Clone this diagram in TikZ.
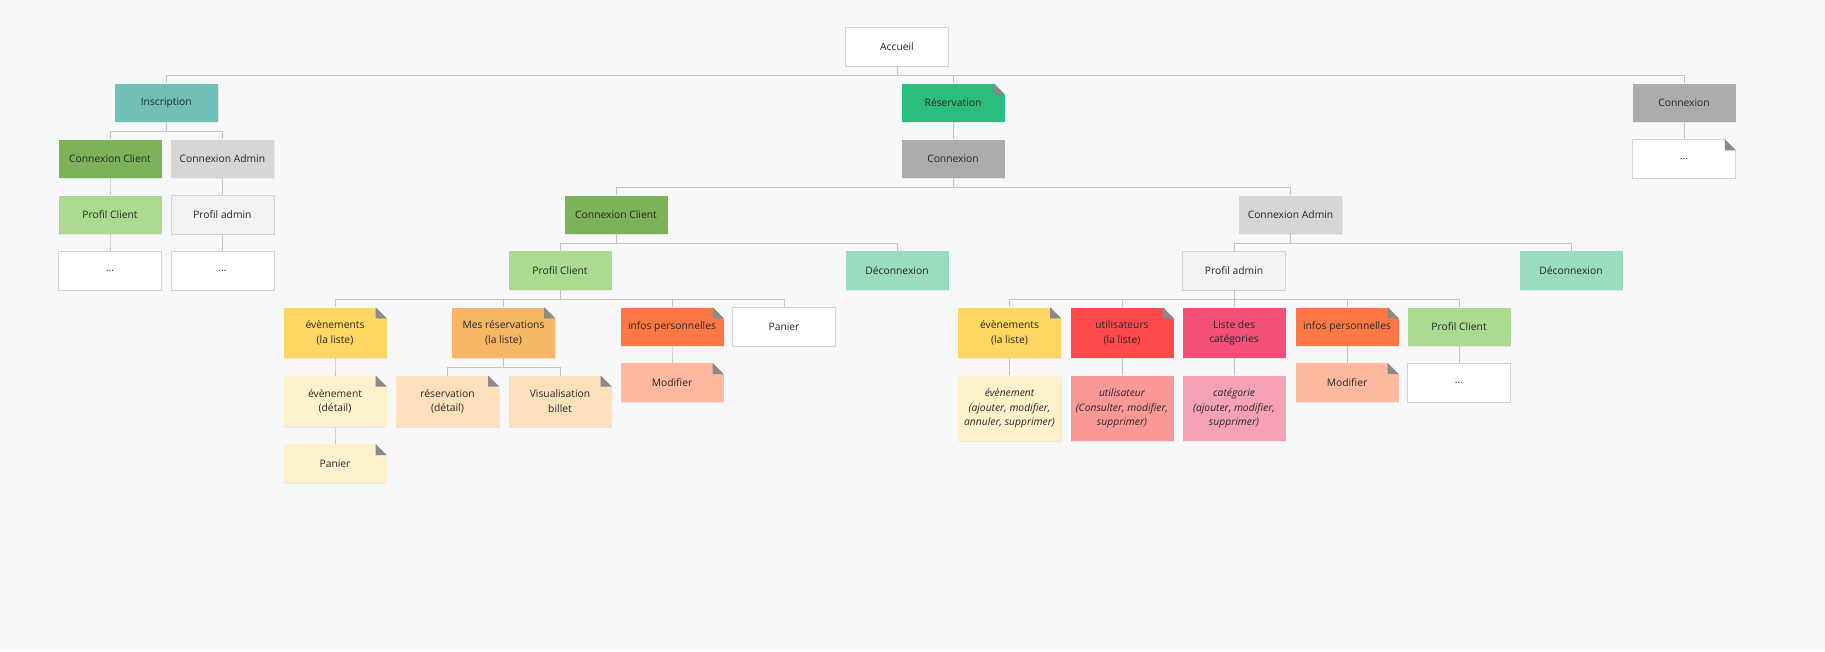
\documentclass[tikz,border=0pt]{standalone}
\usepackage{fontspec}
\setmainfont{Open Sans}
\usetikzlibrary{shadows}

% palette
\definecolor{bgc}{HTML}{F7F8FA}
\definecolor{linec}{HTML}{C3C3C3}
\definecolor{edgec}{HTML}{D4D4D4}
\definecolor{foldc}{HTML}{8A8A8A}
\definecolor{txt}{HTML}{262626}
\definecolor{teal}{HTML}{70BFB9}
\definecolor{resgreen}{HTML}{2BBD7E}
\definecolor{midgray}{HTML}{ACACAC}
\definecolor{darkgreen}{HTML}{7BB25A}
\definecolor{lightgray}{HTML}{D6D6D6}
\definecolor{palegreen}{HTML}{A9DB91}
\definecolor{ghost}{HTML}{F2F2F2}
\definecolor{mint}{HTML}{9ADCBE}
\definecolor{sun}{HTML}{FED763}
\definecolor{apricot}{HTML}{F6B663}
\definecolor{coral}{HTML}{FD7845}
\definecolor{salmon}{HTML}{FEB9A0}
\definecolor{cream}{HTML}{FFF1CB}
\definecolor{peach}{HTML}{FFE0BD}
\definecolor{tomato}{HTML}{FE4A4A}
\definecolor{rose}{HTML}{FC9898}
\definecolor{raspberry}{HTML}{F25079}
\definecolor{blush}{HTML}{F6A2B5}

\begin{document}
\begin{tikzpicture}[x=1pt,y=-1pt,
  card/.style={rectangle, minimum width=103pt, minimum height=38.5pt,
    inner sep=0pt, align=center, text=txt,
    font=\fontsize{10.3}{14.3}\selectfont,
    drop shadow={shadow xshift=0.7pt, shadow yshift=-1.1pt, opacity=0.13}},
  two/.style={minimum height=50.7pt},
  three/.style={minimum height=65.7pt, font=\fontsize{10.3}{14.3}\selectfont\itshape},
  plain/.style={card, fill=white, draw=edgec, line width=0.7pt},
  conn/.style={draw=linec, line width=0.9pt}]

\fill[bgc] (0,0) rectangle (1825,651);
\useasboundingbox (0,0) rectangle (1825,651);

% level 0
\node[plain] (acc) at (897,46.8) {Accueil};

% level 1
\node[card, fill=teal]     (insc) at (166.3,102.9) {Inscription};
\node[card, fill=resgreen] (resa) at (953,102.9)   {Réservation};
\node[card, fill=midgray]  (cnxR) at (1684,102.9)  {Connexion};

% level 2
\node[card, fill=darkgreen] (ccL)   at (110,158.9)   {Connexion Client};
\node[card, fill=lightgray] (caL)   at (222.4,158.9) {Connexion Admin};
\node[card, fill=midgray]   (cnxM)  at (953,158.9)   {Connexion};
\node[plain]                (dotsR) at (1684,158.9)  {...};

% level 3
\node[card, fill=palegreen] (pcL) at (110,214.8)    {Profil Client};
\node[card, fill=ghost, draw=edgec, line width=0.5pt] (paL) at (222.4,214.8) {Profil admin};
\node[card, fill=darkgreen] (ccM) at (616,214.8)    {Connexion Client};
\node[card, fill=lightgray] (caM) at (1290.5,214.8) {Connexion Admin};

% level 4
\node[plain] (dotsL1) at (110,270.6)   {...};
\node[plain] (dotsL2) at (222.4,270.6) {...};
\node[card, fill=palegreen] (pcM)   at (560,270.6)  {Profil Client};
\node[card, fill=mint]      (decoC) at (897,270.6)  {Déconnexion};
\node[card, fill=ghost, draw=edgec, line width=0.5pt] (paM) at (1234,270.6) {Profil admin};
\node[card, fill=mint]      (decoA) at (1571,270.6) {Déconnexion};

% level 5
\node[card, two, fill=sun]       (ev)   at (335,332.9)   {évènements\\(la liste)};
\node[card, two, fill=apricot]   (mres) at (503.5,332.9) {Mes réservations\\(la liste)};
\node[card, fill=coral]          (infC) at (672,326.8)   {infos personnelles};
\node[plain]                     (panC) at (784,326.8)   {Panier};
\node[card, two, fill=sun]       (evA)  at (1009.5,332.9) {évènements\\(la liste)};
\node[card, two, fill=tomato]    (utl)  at (1122,332.9)  {utilisateurs\\(la liste)};
\node[card, two, fill=raspberry] (cat)  at (1234,332.9)  {Liste des\\catégories};
\node[card, fill=coral]          (infA) at (1347,326.8)  {infos personnelles};
\node[card, fill=palegreen]      (pcA)  at (1459,326.8)  {Profil Client};

% level 6
\node[card, two, fill=cream] (evd)  at (335,401.2)   {évènement\\(détail)};
\node[card, two, fill=peach] (resd) at (447.5,401.2) {réservation\\(détail)};
\node[card, two, fill=peach] (visu) at (560,401.2)   {Visualisation\\billet};
\node[card, fill=salmon]     (modC) at (672,382.6)   {Modifier};
\node[card, three, fill=cream] (evA2) at (1009.5,408.5) {évènement\\(ajouter, modifier,\\annuler, supprimer)};
\node[card, three, fill=rose]  (utl2) at (1122,408.5)   {utilisateur\\(Consulter, modifier,\\supprimer)};
\node[card, three, fill=blush] (cat2) at (1234,408.5)   {catégorie\\(ajouter, modifier,\\supprimer)};
\node[card, fill=salmon]     (modA)  at (1347,382.6) {Modifier};
\node[plain]                 (dotsA) at (1459,382.6) {...};

% level 7
\node[card, fill=cream] (panE) at (335,463.6) {Panier};

% folded corners
\foreach \n in {resa,dotsR,ev,mres,infC,evd,resd,visu,modC,panE,evA,utl,infA,modA}{
  \fill[bgc] ([xshift=-11pt,yshift=0.6pt]\n.north east) -- ([xshift=1.6pt,yshift=0.6pt]\n.north east)
    -- ([xshift=1.6pt,yshift=-12.6pt]\n.north east) -- cycle;
  \fill[foldc] ([xshift=-11pt]\n.north east) -- ([xshift=-11pt,yshift=-11pt]\n.north east)
    -- ([yshift=-11pt]\n.north east) -- cycle;
}

% connectors
\foreach \p/\c in {acc/insc, acc/resa, acc/cnxR,
                   insc/ccL, insc/caL, ccL/pcL, pcL/dotsL1, caL/paL, paL/dotsL2,
                   resa/cnxM, cnxR/dotsR,
                   cnxM/ccM, cnxM/caM,
                   ccM/pcM, ccM/decoC, caM/paM, caM/decoA,
                   pcM/ev, pcM/mres, pcM/infC, pcM/panC,
                   ev/evd, evd/panE, mres/resd, mres/visu, infC/modC,
                   paM/evA, paM/utl, paM/cat, paM/infA, paM/pcA,
                   evA/evA2, utl/utl2, cat/cat2, infA/modA, pcA/dotsA}{
  \draw[conn] (\p.south) -- ++(0,9.2) -| (\c.north);
}
\end{tikzpicture}
\end{document}
